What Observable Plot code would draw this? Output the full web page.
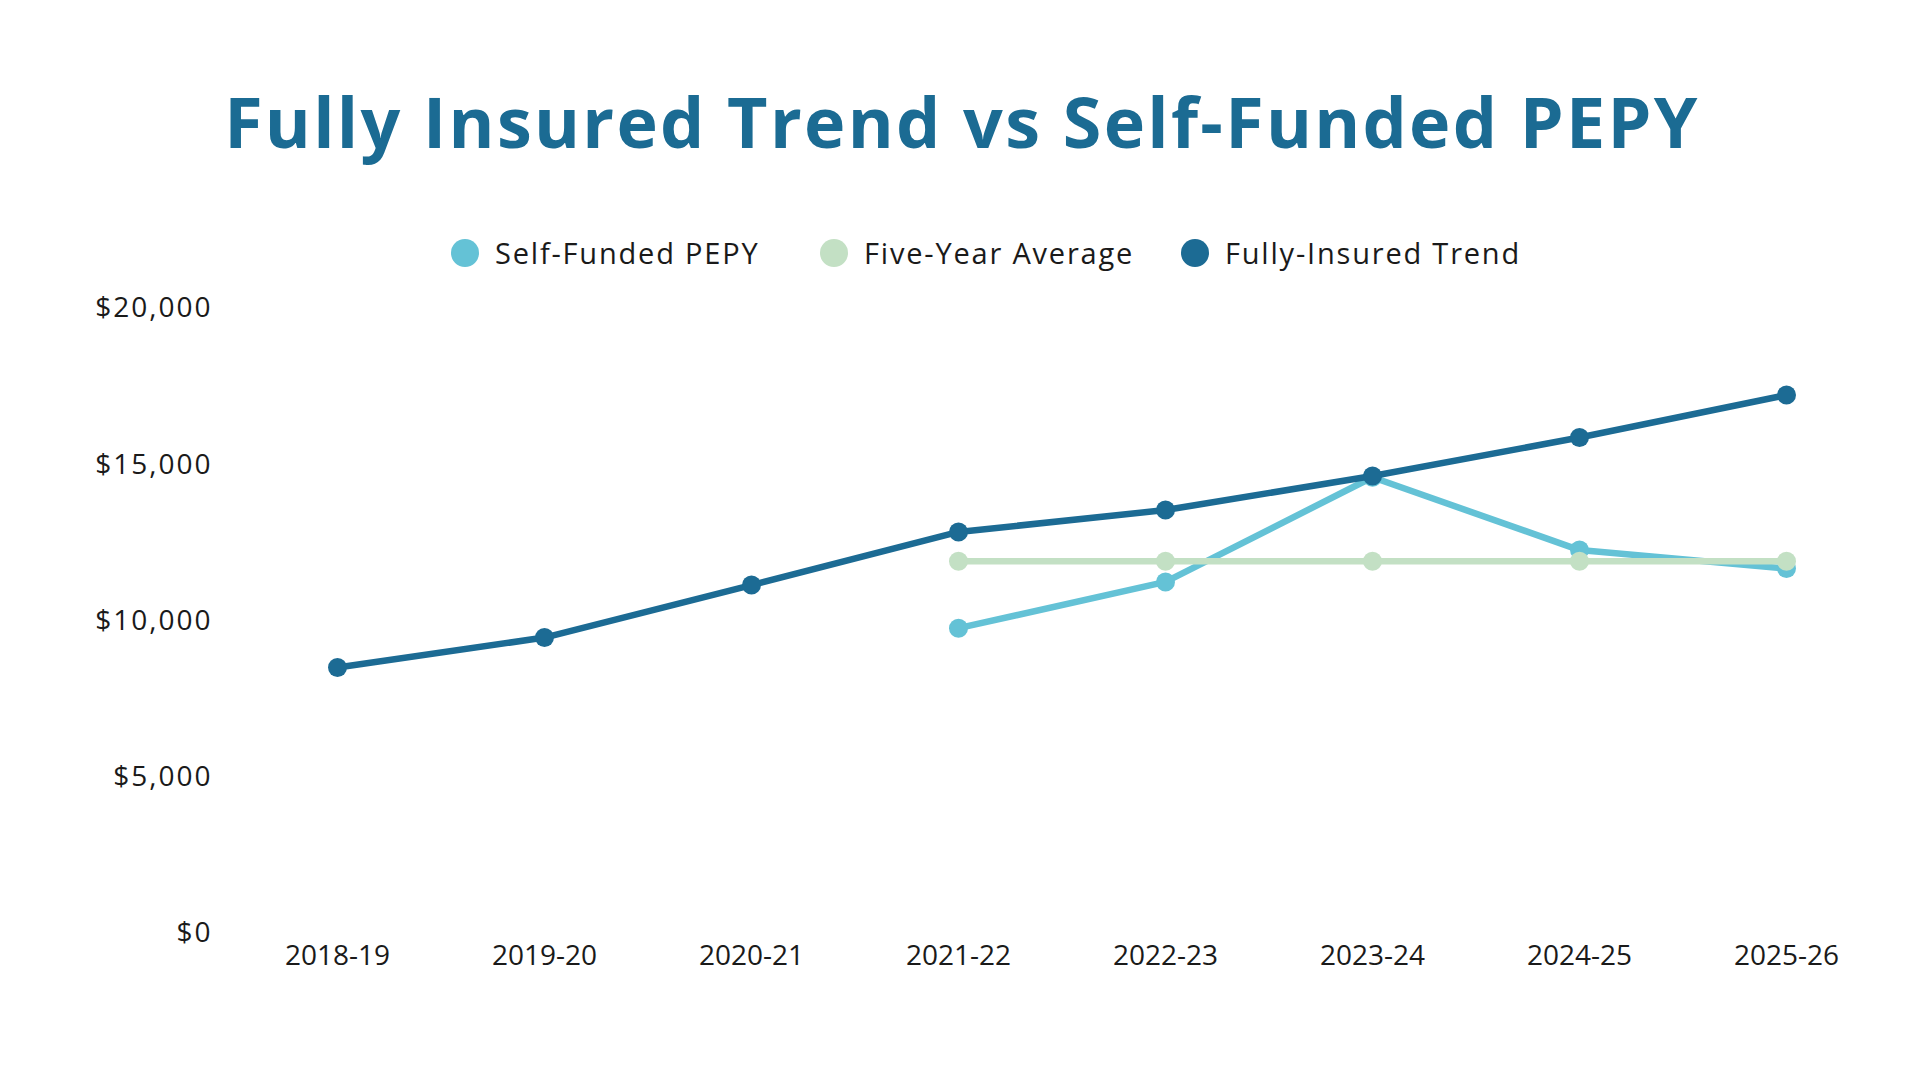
<!DOCTYPE html>
<html>
<head>
<meta charset="utf-8">
<script src="https://cdn.jsdelivr.net/npm/d3@7"></script>
<script src="https://cdn.jsdelivr.net/npm/@observablehq/plot@0.6"></script>
<style>
  html, body { margin: 0; padding: 0; background: #fff; }
  #wrap { position: relative; width: 1920px; height: 1080px; background: #fff; overflow: hidden; font-family: "Open Sans", sans-serif; }
  #title { position: absolute; left: 0; width: 1924px; top: 87px; text-align: center; font-size: 70px; line-height: 68px; font-weight: 700; color: #1b6b93; letter-spacing: 2.3px; white-space: nowrap; }
  .leg { position: absolute; top: 239px; height: 28px; display: flex; align-items: center; font-size: 29px; line-height: 28px; color: #1a1a1a; white-space: nowrap; letter-spacing: 1.8px; }
  .leg .sw { width: 28px; height: 28px; border-radius: 50%; margin-right: 16px; }
  #chart { position: absolute; left: 0; top: 280px; }
</style>
</head>
<body>
<div id="wrap">
  <div id="title">Fully Insured Trend vs Self-Funded PEPY</div>
  <div id="legend"></div>
  <div id="chart"></div>
</div>
<script>
const categories = ["2018-19", "2019-20", "2020-21", "2021-22", "2022-23", "2023-24", "2024-25", "2025-26"];
const fullyInsured = [8510, 9470, 11150, 12850, 13550, 14640, 15870, 17230];
const selfFunded = [null, null, null, 9770, 11250, 14600, 12270, 11680];
const fiveYearAverage = [null, null, null, 11914, 11914, 11914, 11914, 11914];
const seriesNames = ["Self-Funded PEPY", "Five-Year Average", "Fully-Insured Trend"];
const seriesColors = ["#64c2d6", "#c3e0c4", "#1c6b94"];
const yTicks = [0, 5000, 10000, 15000, 20000];

const seriesValues = [selfFunded, fiveYearAverage, fullyInsured];
const rows = [];
seriesNames.forEach((name, i) => {
  categories.forEach((c, j) => {
    const v = seriesValues[i][j];
    if (v != null) rows.push({series: name, year: c, value: v});
  });
});

// legend
const legendX = [465, 834, 1195];
const legend = document.getElementById("legend");
seriesNames.forEach((name, i) => {
  const item = document.createElement("div");
  item.className = "leg";
  item.style.left = (legendX[i] - 14) + "px";
  const sw = document.createElement("div");
  sw.className = "sw";
  sw.style.background = seriesColors[i];
  const tx = document.createElement("span");
  tx.textContent = name;
  item.appendChild(sw);
  item.appendChild(tx);
  legend.appendChild(item);
});

const fmt = d3.format("$,");
const marks = [];
seriesNames.forEach((name, i) => {
  const data = rows.filter(r => r.series === name);
  marks.push(Plot.line(data, {x: "year", y: "value", stroke: seriesColors[i], strokeWidth: 6.5, strokeLinejoin: "round"}));
  marks.push(Plot.dot(data, {x: "year", y: "value", fill: seriesColors[i], r: 9.5}));
});

const plot = Plot.plot({
  width: 1920,
  height: 733,
  marginTop: 28,
  marginBottom: 80,
  marginLeft: 335,
  marginRight: 132,
  style: {fontFamily: "Open Sans", fontSize: "28px", color: "#1a1a1a", background: "transparent"},
  x: {type: "point", domain: categories, padding: 0, label: null},
  y: {domain: [0, 20000], label: null},
  marks: [
    Plot.axisY({ticks: yTicks, tickFormat: fmt, tickSize: 0, tickPadding: 123, fontSize: 28, label: null, ariaLabel: "y-axis"}),
    Plot.axisX({tickSize: 0, tickPadding: 12, fontSize: 28, label: null, ariaLabel: "x-axis"}),
    ...marks
  ]
});
plot.querySelectorAll('g[aria-label="y-axis"] text, g[aria-label="y-axis tick label"] text').forEach(t => t.style.letterSpacing = "2px");
document.getElementById("chart").appendChild(plot);
</script>
</body>
</html>
